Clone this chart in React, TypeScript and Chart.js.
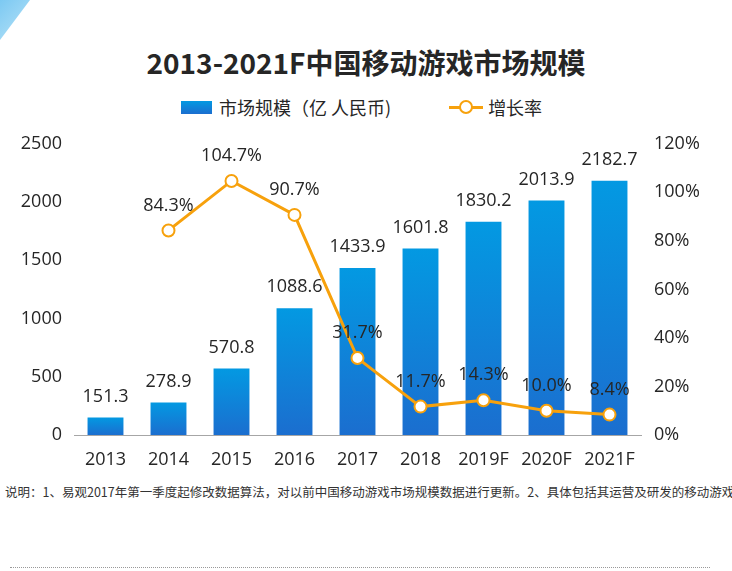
import React, { useEffect, useRef } from "react";
import { Chart, registerables } from "chart.js";

Chart.register(...registerables);

const categories = ["2013", "2014", "2015", "2016", "2017", "2018", "2019F", "2020F", "2021F"];
const marketSize = [151.3, 278.9, 570.8, 1088.6, 1433.9, 1601.8, 1830.2, 2013.9, 2182.7];
const growthRate: (number | null)[] = [null, 84.3, 104.7, 90.7, 31.7, 11.7, 14.3, 10.0, 8.4];
const leftTicks = { min: 0, max: 2500, step: 500 };
const rightTicks = { min: 0, max: 120, step: 20 };

const FONT = "'Open Sans', 'Noto Sans CJK SC', sans-serif";
const CJK = "'Noto Sans CJK SC', 'Open Sans', sans-serif";
const ORANGE = "#f7a10c";

const labelPlugin = {
  id: "valueLabels",
  afterDatasetsDraw(chart: any) {
    const ctx = chart.ctx;
    ctx.save();
    ctx.font = `18px ${FONT}`;
    ctx.fillStyle = "#262626";
    ctx.textAlign = "center";
    ctx.textBaseline = "middle";
    chart.data.datasets.forEach((ds: any, di: number) => {
      const meta = chart.getDatasetMeta(di);
      meta.data.forEach((el: any, i: number) => {
        const v = ds.data[i];
        if (v === null || v === undefined) return;
        if (ds.type === "bar") {
          ctx.fillText(v.toFixed(1), el.x, el.y - 21);
        } else {
          ctx.fillText(v.toFixed(1) + "%", el.x, el.y - 25);
        }
      });
    });
    ctx.restore();
  },
};

export default function App() {
  const ref = useRef<HTMLCanvasElement>(null);
  useEffect(() => {
    document.body.style.margin = "0";
    const canvas = ref.current!;
    const chart = new Chart(canvas, {
      type: "bar",
      data: {
        labels: categories,
        datasets: [
          {
            type: "line",
            label: "增长率",
            data: growthRate,
            yAxisID: "y1",
            borderColor: ORANGE,
            borderWidth: 3,
            pointRadius: 6,
            pointBorderWidth: 2,
            pointBackgroundColor: "#ffffff",
            pointBorderColor: ORANGE,
            tension: 0,
            order: 0,
          } as any,
          {
            type: "bar",
            label: "市场规模（亿 人民币)",
            data: marketSize,
            yAxisID: "y",
            barPercentage: 0.57,
            categoryPercentage: 1,
            order: 1,
            backgroundColor: (c: any) => {
              const ch = c.chart;
              const ys = ch.scales?.y;
              if (!ys || !ch.chartArea || c.raw == null) return "#0a8ad8";
              const top = ys.getPixelForValue(c.raw);
              const bottom = ys.getPixelForValue(0);
              if (!isFinite(top) || bottom - top < 1) return "#0a8ad8";
              const g = ch.ctx.createLinearGradient(0, top, 0, bottom);
              g.addColorStop(0, "#0399e2");
              g.addColorStop(1, "#1b6ecf");
              return g;
            },
          } as any,
        ],
      },
      options: {
        animation: false,
        responsive: false,
        maintainAspectRatio: false,
        layout: { padding: { top: 20, left: 0, right: 0, bottom: 0 } },
        plugins: { legend: { display: false }, title: { display: false }, tooltip: { enabled: false } },
        scales: {
          x: {
            grid: { display: false, drawTicks: false },
            border: { display: true, color: "#a6a6a6", width: 1 },
            ticks: { color: "#262626", font: { size: 18, family: FONT }, padding: 14 },
            afterFit: (s: any) => { s.height = 45; },
          },
          y: {
            position: "left",
            min: leftTicks.min,
            max: leftTicks.max,
            grid: { display: false, drawTicks: false },
            border: { display: false },
            ticks: {
              stepSize: leftTicks.step,
              color: "#262626",
              font: { size: 18, family: FONT },
              padding: 12,
              callback: (v: any) => String(v),
            },
            afterFit: (s: any) => { s.width = 74; },
          },
          y1: {
            position: "right",
            min: rightTicks.min,
            max: rightTicks.max,
            grid: { display: false, drawTicks: false },
            border: { display: false },
            ticks: {
              stepSize: rightTicks.step,
              color: "#262626",
              font: { size: 18, family: FONT },
              padding: 13,
              callback: (v: any) => v + "%",
            },
            afterFit: (s: any) => { s.width = 91; },
          },
        },
      },
      plugins: [labelPlugin],
    });
    return () => chart.destroy();
  }, []);

  return (
    <div style={{ position: "relative", width: 732, height: 571, background: "#fff", overflow: "hidden" }}>
      <div
        style={{
          position: "absolute", left: 0, top: 0, width: 30, height: 40,
          background: "linear-gradient(135deg, #7cc9f2, #b8e3f8)",
          clipPath: "polygon(0 0, 100% 0, 0 100%)",
        }}
      />
      <div
        style={{
          position: "absolute", left: 0, top: 44, width: 732, textAlign: "center",
          font: `bold 28px ${CJK}`, color: "#262626", lineHeight: "36px",
        }}
      >
        2013-2021F中国移动游戏市场规模
      </div>
      <div style={{ position: "absolute", left: 181, top: 96, height: 22, display: "flex", alignItems: "center", font: `18px ${CJK}`, color: "#262626" }}>
        <span style={{ display: "inline-block", width: 31, height: 13, background: "linear-gradient(#0399e2, #1b6ecf)", marginRight: 7 }} />
        <span>市场规模（亿 人民币)</span>
        <span style={{ display: "inline-block", position: "relative", width: 34, height: 14, marginLeft: 58, marginRight: 5 }}>
          <span style={{ position: "absolute", left: 0, top: 6, width: 34, height: 3, background: ORANGE }} />
          <span style={{ position: "absolute", left: 10, top: 0, width: 10, height: 10, borderRadius: "50%", border: `2px solid ${ORANGE}`, background: "#fff" }} />
        </span>
        <span>增长率</span>
      </div>
      <canvas ref={ref} width={732} height={360} style={{ position: "absolute", left: 0, top: 120, width: 732, height: 360 }} />
      <div
        style={{
          position: "absolute", left: 5, top: 483, width: 727, whiteSpace: "nowrap", overflow: "hidden",
          font: `12.5px ${CJK}`, color: "#333", lineHeight: "18px",
        }}
      >
        说明：1、易观2017年第一季度起修改数据算法，对以前中国移动游戏市场规模数据进行更新。2、具体包括其运营及研发的移动游戏
      </div>
      <div style={{ position: "absolute", left: 10, top: 567, width: 700, borderTop: "1px dotted #999" }} />
    </div>
  );
}
